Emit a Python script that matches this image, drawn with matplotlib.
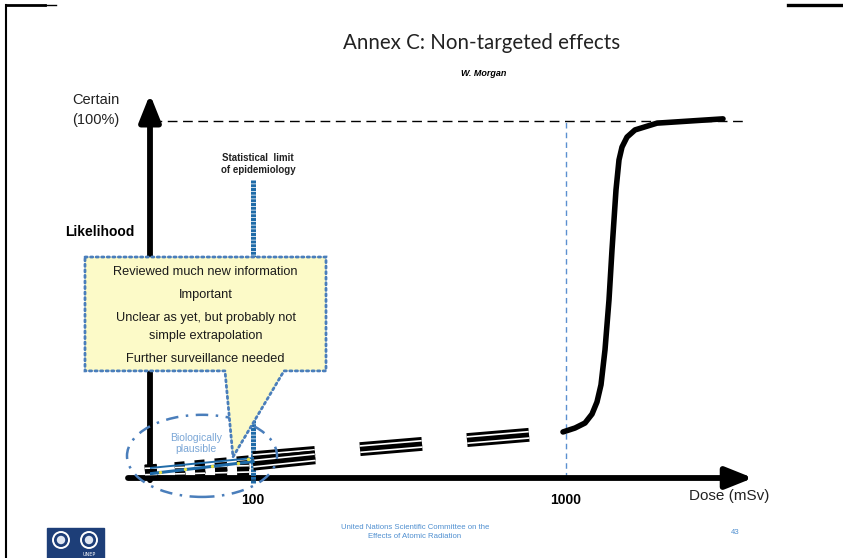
import numpy as np
import matplotlib
matplotlib.use("Agg")
import matplotlib.pyplot as plt
from matplotlib.patches import Polygon, Ellipse, Rectangle, Circle

# dose axis is schematic: positions along the arrow, labelled at two doses
tick_pos = [103, 416]
tick_labels = ["100", "1000"]

# threshold / sigmoid response above 1000 mSv (position, likelihood %)
curve_x = [413, 425, 435, 442, 447, 451, 455, 459, 462, 466, 469, 472, 477, 485, 507, 540, 573]
curve_y = [12.9, 14.0, 15.4, 17.9, 21.3, 26.1, 35.9, 49.9, 63.9, 80.7, 89.1, 92.7, 95.5, 97.5, 99.4, 100.0, 100.6]

# linear extrapolation below 1000 mSv, drawn as broken segments
lin_start, lin_end = 3.1, 12.9
seg_ranges = [(103, 165), (210, 272), (317, 379)]
low_ranges = [(-5, 7), (25, 35), (45, 55), (65, 77), (87, 99)]
fan_end = [4.5, 2.6]   # likelihood at 100 mSv for the two low-dose lines
blue_y = [1.2, 4.6]

box_lines = ["Reviewed much new information", "Important",
             "Unclear as yet, but probably not", "simple extrapolation",
             "Further surveillance needed"]
box_line_y = [57.7, 51.3, 44.8, 39.8, 33.3]

BLUE = "#4a7ebb"
DARK_BLUE = "#1f6ba8"

fig = plt.figure(figsize=(8.43, 5.58), dpi=100)

# slide frame, title and footer in pixel coordinates
bg = fig.add_axes([0, 0, 1, 1])
bg.set_xlim(0, 843)
bg.set_ylim(558, 0)
bg.axis("off")
bg.plot([6, 6], [5, 558], color="black", lw=1.5)
bg.plot([6, 45], [5, 5], color="black", lw=2)
bg.plot([45, 56], [5, 5], color="black", lw=1)
bg.plot([788, 843], [5, 5], color="black", lw=2.4)
bg.text(482, 43, "Annex C: Non-targeted effects", ha="center", va="center",
        fontsize=14.8, family="Lato", color="#222222")
bg.text(484, 73, "W. Morgan", ha="center", va="center", fontsize=6.5,
        fontweight="bold", style="italic", family="Liberation Sans")
bg.text(415, 532, "United Nations Scientific Committee on the\nEffects of Atomic Radiation",
        ha="center", va="center", fontsize=5.6, color="#4f8fd0",
        family="Liberation Sans", linespacing=1.3)
bg.text(735, 532, "43", ha="center", va="center", fontsize=5.6, color="#4f8fd0",
        family="Liberation Sans")
bg.add_patch(Rectangle((47, 528), 57, 30, color="#1d3e78"))
for cx in (61, 89):
    bg.add_patch(Circle((cx, 540), 8, fill=False, ec="white", lw=1.4))
    bg.add_patch(Circle((cx, 540), 3.5, color="#dfe6f2"))
bg.text(89, 554, "UNEP", ha="center", va="center", fontsize=3.5, color="white")

# the chart itself: origin at pixel (150, 478), 100 % at y = 121
ax = fig.add_axes([150 / 843, 80 / 558, 600 / 843, 357 / 558])
ax.set_xlim(0, 600)
ax.set_ylim(0, 100)
ax.axis("off")

# axes arrows
arrow = dict(arrowstyle="-|>,head_length=0.9,head_width=0.36", lw=4.2,
             color="black", mutation_scale=18, shrinkA=0, shrinkB=0)
ax.annotate("", xy=(0, 107.5), xytext=(0, -0.6), annotation_clip=False, arrowprops=arrow)
ax.annotate("", xy=(603, 0), xytext=(-22, 0), annotation_clip=False, arrowprops=arrow)

ax.plot([2, 595], [100, 100], color="black", lw=1, dashes=(7, 4), clip_on=False)
ax.plot([416, 416], [0, 100], color="#5b8fd0", lw=1, dashes=(4, 3))

for pos, lab in zip(tick_pos, tick_labels):
    ax.text(pos, -6.3, lab, ha="center", va="center", fontsize=10, fontweight="bold",
            family="Liberation Sans")
ax.text(579, -5, "Dose (mSv)", ha="center", va="center", fontsize=11,
        family="Liberation Sans", color="#222222")
ax.text(-54, 105.9, "Certain", ha="center", va="center", fontsize=10.5,
        family="Liberation Sans", color="#222222", clip_on=False)
ax.text(-54, 100.3, "(100%)", ha="center", va="center", fontsize=10.5,
        family="Liberation Sans", color="#222222", clip_on=False)
ax.text(-50, 68.9, "Likelihood", ha="center", va="center", fontsize=10,
        fontweight="bold", family="Liberation Sans", clip_on=False)
ax.text(108, 88, "Statistical  limit\nof epidemiology", ha="center", va="center",
        fontsize=7, fontweight="bold", family="Liberation Sans", linespacing=1.25,
        color="#222222")

# statistical limit of epidemiology at 100 mSv
ax.plot([103, 103], [-1.4, 83.5], color=DARK_BLUE, lw=3.6, dashes=(0.6, 0.15),
        solid_capstyle="butt", clip_on=False, zorder=3)


def band(xs, ys, z=4):
    # black line with two thin white stripes inside
    ax.plot(xs, ys, color="black", lw=10.0, solid_capstyle="butt", zorder=z, clip_on=False)
    ax.plot(xs, ys, color="white", lw=5.8, solid_capstyle="butt", zorder=z, clip_on=False)
    ax.plot(xs, ys, color="black", lw=3.4, solid_capstyle="butt", zorder=z, clip_on=False)


def lin(x, y_end_100=None):
    if y_end_100 is None:
        return lin_start + (lin_end - lin_start) * np.asarray(x) / 413
    return lin_start * 0.6 + (y_end_100 - lin_start * 0.6) * np.asarray(x) / 103

for a, b in seg_ranges:
    band([a, b], lin([a, b]))
# lower branch fanning out just above 100 mSv
band([103, 165], [fan_end[1] + 1.4, fan_end[1] + 3.2])

for fy in fan_end:
    for a, b in low_ranges:
        band([a, b], lin([a, b], fy), z=4)
ax.plot([0, 103], blue_y, color=DARK_BLUE, lw=2.2, zorder=5)
ax.plot([0, 103], [blue_y[0] + 1.6, blue_y[1] + 1.0], color=DARK_BLUE, lw=1.4, zorder=5)
ax.scatter([10, 35, 62, 88, 98], [1.6, 2.4, 3.3, 4.2, 5.4], s=2, color="#e8e040", zorder=6)

ax.plot(curve_x, curve_y, color="black", lw=4.0, solid_capstyle="round",
        solid_joinstyle="round", zorder=4, clip_on=False)

# biologically plausible region
ax.add_patch(Ellipse((52, 6.2), 150, 23, fill=False, ec=BLUE, lw=1.8,
                     linestyle=(0, (5, 3, 1, 3)), zorder=6, clip_on=False))
ax.text(46, 9.6, "Biologically\nplausible", ha="center", va="center", fontsize=7.5,
        color="#7aa6d6", family="Liberation Sans", linespacing=1.1, zorder=6)

# callout box
callout = [(-65, 61.9), (176, 61.9), (176, 30.0), (134, 30.0), (83, 5.9),
           (75, 30.0), (-65, 30.0)]
ax.add_patch(Polygon(callout, closed=True, fc="#fcfac8", ec=BLUE, lw=2.0,
                     linestyle=(0, (0.8, 1.2)), capstyle="round", zorder=7, clip_on=False))
for txt, ty in zip(box_lines, box_line_y):
    ax.text(55.5, ty, txt, ha="center", va="center", fontsize=9.2,
            family="Liberation Sans", color="#1a1a1a", zorder=8, clip_on=False)

fig.savefig("out.png", dpi=100)
